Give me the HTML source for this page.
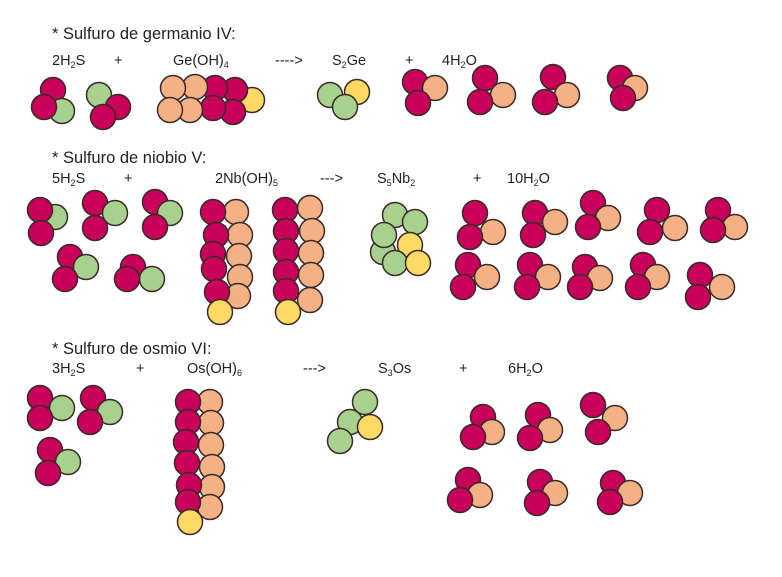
<!DOCTYPE html>
<html><head><meta charset="utf-8"><style>
html,body{margin:0;padding:0;background:#fff;width:782px;height:577px;overflow:hidden}
svg text{font-family:"Liberation Sans",sans-serif;font-size:14.5px;fill:#222}
svg text.t{font-size:16.5px}
.m{fill:#c8005a}.g{fill:#a9d18e}.o{fill:#f4b183}.y{fill:#ffd966}
circle{stroke:#3a2a2a;stroke-width:1.5}
</style></head><body>
<svg width="782" height="577" viewBox="0 0 782 577" xmlns="http://www.w3.org/2000/svg">
<g>
<text class="t" x="52" y="39">* Sulfuro de germanio IV:</text>
<text x="52" y="65">2H<tspan font-size="9" dy="3">2</tspan><tspan dy="-3">S</tspan></text>
<text x="114" y="65">+</text>
<text x="173" y="65">Ge(OH)<tspan font-size="9" dy="3">4</tspan></text>
<text x="275" y="65">----&gt;</text>
<text x="332" y="65">S<tspan font-size="9" dy="3">2</tspan><tspan dy="-3">Ge</tspan></text>
<text x="405" y="65">+</text>
<text x="442" y="65">4H<tspan font-size="9" dy="3">2</tspan><tspan dy="-3">O</tspan></text>

<text class="t" x="52" y="163">* Sulfuro de niobio V:</text>
<text x="52" y="183">5H<tspan font-size="9" dy="3">2</tspan><tspan dy="-3">S</tspan></text>
<text x="124" y="183">+</text>
<text x="215" y="183">2Nb(OH)<tspan font-size="9" dy="3">5</tspan></text>
<text x="320" y="183">---&gt;</text>
<text x="377" y="183">S<tspan font-size="9" dy="3">5</tspan><tspan dy="-3">Nb</tspan><tspan font-size="9" dy="3">2</tspan></text>
<text x="473" y="183">+</text>
<text x="507" y="183">10H<tspan font-size="9" dy="3">2</tspan><tspan dy="-3">O</tspan></text>

<text class="t" x="52" y="354">* Sulfuro de osmio VI:</text>
<text x="52" y="373">3H<tspan font-size="9" dy="3">2</tspan><tspan dy="-3">S</tspan></text>
<text x="136" y="373">+</text>
<text x="187" y="373">Os(OH)<tspan font-size="9" dy="3">6</tspan></text>
<text x="303" y="373">---&gt;</text>
<text x="378" y="373">S<tspan font-size="9" dy="3">3</tspan><tspan dy="-3">Os</tspan></text>
<text x="459" y="373">+</text>
<text x="508" y="373">6H<tspan font-size="9" dy="3">2</tspan><tspan dy="-3">O</tspan></text>
</g>
<g>
<circle class="m" cx="53" cy="90" r="12.5"/><circle class="g" cx="62" cy="111" r="12.5"/><circle class="m" cx="44" cy="107" r="12.5"/>
<circle class="g" cx="99" cy="95" r="12.5"/><circle class="m" cx="118" cy="107" r="12.5"/><circle class="m" cx="103" cy="117" r="12.5"/>
<circle class="y" cx="252" cy="100" r="12.5"/>
<circle class="m" cx="235" cy="90" r="12.5"/><circle class="m" cx="215" cy="88" r="12.5"/>
<circle class="o" cx="195" cy="87" r="12.5"/><circle class="o" cx="173" cy="88" r="12.5"/>
<circle class="m" cx="233" cy="112" r="12.5"/><circle class="m" cx="213" cy="108" r="12.5"/>
<circle class="o" cx="190" cy="110" r="12.5"/><circle class="o" cx="170" cy="110" r="12.5"/>
<circle class="g" cx="330" cy="95" r="12.5"/><circle class="y" cx="357" cy="92" r="12.5"/><circle class="g" cx="345" cy="107" r="12.5"/>
<circle class="m" cx="415" cy="82" r="12.5"/><circle class="o" cx="435" cy="88" r="12.5"/><circle class="m" cx="418" cy="103" r="12.5"/>
<circle class="m" cx="485" cy="78" r="12.5"/><circle class="o" cx="503" cy="95" r="12.5"/><circle class="m" cx="480" cy="102" r="12.5"/>
<circle class="m" cx="553" cy="77" r="12.5"/><circle class="o" cx="567" cy="95" r="12.5"/><circle class="m" cx="545" cy="102" r="12.5"/>
<circle class="m" cx="620" cy="78" r="12.5"/><circle class="o" cx="635" cy="88" r="12.5"/><circle class="m" cx="623" cy="98" r="12.5"/>

<circle class="g" cx="55" cy="217" r="12.5"/><circle class="m" cx="40" cy="210" r="12.5"/><circle class="m" cx="41" cy="233" r="12.5"/>
<circle class="m" cx="95" cy="203" r="12.5"/><circle class="g" cx="115" cy="213" r="12.5"/><circle class="m" cx="95" cy="228" r="12.5"/>
<circle class="m" cx="155" cy="202" r="12.5"/><circle class="g" cx="170" cy="213" r="12.5"/><circle class="m" cx="155" cy="227" r="12.5"/>
<circle class="m" cx="70" cy="257" r="12.5"/><circle class="g" cx="86" cy="267" r="12.5"/><circle class="m" cx="65" cy="279" r="12.5"/>
<circle class="m" cx="133" cy="267" r="12.5"/><circle class="g" cx="152" cy="279" r="12.5"/><circle class="m" cx="127" cy="279" r="12.5"/>

<circle class="o" cx="236" cy="212" r="12.5"/><circle class="o" cx="240" cy="235" r="12.5"/><circle class="o" cx="239" cy="256" r="12.5"/><circle class="o" cx="240" cy="277" r="12.5"/><circle class="o" cx="238" cy="296" r="12.5"/>
<circle class="m" cx="213" cy="212" r="12.5"/><circle class="m" cx="216" cy="235" r="12.5"/><circle class="m" cx="213" cy="254" r="12.5"/><circle class="m" cx="214" cy="269" r="12.5"/><circle class="m" cx="217" cy="292" r="12.5"/>
<circle class="y" cx="220" cy="312" r="12.5"/>
<circle class="o" cx="310" cy="208" r="12.5"/><circle class="o" cx="312" cy="231" r="12.5"/><circle class="o" cx="311" cy="253" r="12.5"/><circle class="o" cx="311" cy="275" r="12.5"/><circle class="o" cx="310" cy="300" r="12.5"/>
<circle class="m" cx="285" cy="210" r="12.5"/><circle class="m" cx="286" cy="231" r="12.5"/><circle class="m" cx="286" cy="251" r="12.5"/><circle class="m" cx="286" cy="272" r="12.5"/><circle class="m" cx="286" cy="291" r="12.5"/>
<circle class="y" cx="288" cy="312" r="12.5"/>

<circle class="g" cx="395" cy="215" r="12.5"/><circle class="g" cx="415" cy="222" r="12.5"/><circle class="g" cx="383" cy="252" r="12.5"/><circle class="g" cx="384" cy="235" r="12.5"/><circle class="y" cx="410" cy="245" r="12.5"/><circle class="g" cx="395" cy="263" r="12.5"/><circle class="y" cx="418" cy="263" r="12.5"/>

<circle class="m" cx="475" cy="213" r="12.5"/><circle class="o" cx="493" cy="232" r="12.5"/><circle class="m" cx="470" cy="237" r="12.5"/>
<circle class="m" cx="535" cy="213" r="12.5"/><circle class="o" cx="555" cy="222" r="12.5"/><circle class="m" cx="533" cy="235" r="12.5"/>
<circle class="m" cx="593" cy="203" r="12.5"/><circle class="o" cx="608" cy="218" r="12.5"/><circle class="m" cx="588" cy="227" r="12.5"/>
<circle class="m" cx="657" cy="210" r="12.5"/><circle class="o" cx="675" cy="228" r="12.5"/><circle class="m" cx="650" cy="232" r="12.5"/>
<circle class="m" cx="718" cy="210" r="12.5"/><circle class="o" cx="735" cy="227" r="12.5"/><circle class="m" cx="713" cy="230" r="12.5"/>
<circle class="m" cx="468" cy="265" r="12.5"/><circle class="o" cx="487" cy="277" r="12.5"/><circle class="m" cx="463" cy="287" r="12.5"/>
<circle class="m" cx="530" cy="265" r="12.5"/><circle class="o" cx="548" cy="277" r="12.5"/><circle class="m" cx="527" cy="287" r="12.5"/>
<circle class="m" cx="585" cy="267" r="12.5"/><circle class="o" cx="600" cy="278" r="12.5"/><circle class="m" cx="580" cy="287" r="12.5"/>
<circle class="m" cx="643" cy="265" r="12.5"/><circle class="o" cx="657" cy="277" r="12.5"/><circle class="m" cx="638" cy="287" r="12.5"/>
<circle class="m" cx="700" cy="275" r="12.5"/><circle class="o" cx="722" cy="287" r="12.5"/><circle class="m" cx="698" cy="297" r="12.5"/>

<circle class="m" cx="40" cy="398" r="12.5"/><circle class="g" cx="62" cy="408" r="12.5"/><circle class="m" cx="40" cy="418" r="12.5"/>
<circle class="m" cx="93" cy="398" r="12.5"/><circle class="g" cx="110" cy="412" r="12.5"/><circle class="m" cx="90" cy="422" r="12.5"/>
<circle class="m" cx="50" cy="450" r="12.5"/><circle class="g" cx="68" cy="462" r="12.5"/><circle class="m" cx="48" cy="473" r="12.5"/>

<circle class="o" cx="210" cy="402" r="12.5"/><circle class="o" cx="211" cy="423" r="12.5"/><circle class="o" cx="211" cy="445" r="12.5"/><circle class="o" cx="212" cy="467" r="12.5"/><circle class="o" cx="212" cy="487" r="12.5"/><circle class="o" cx="210" cy="507" r="12.5"/>
<circle class="m" cx="188" cy="402" r="12.5"/><circle class="m" cx="188" cy="422" r="12.5"/><circle class="m" cx="186" cy="442" r="12.5"/><circle class="m" cx="187" cy="463" r="12.5"/><circle class="m" cx="189" cy="485" r="12.5"/><circle class="m" cx="188" cy="502" r="12.5"/>
<circle class="y" cx="190" cy="522" r="12.5"/>

<circle class="g" cx="365" cy="402" r="12.5"/><circle class="g" cx="350" cy="422" r="12.5"/><circle class="y" cx="370" cy="427" r="12.5"/><circle class="g" cx="340" cy="441" r="12.5"/>

<circle class="m" cx="483" cy="417" r="12.5"/><circle class="o" cx="492" cy="432" r="12.5"/><circle class="m" cx="473" cy="437" r="12.5"/>
<circle class="m" cx="538" cy="415" r="12.5"/><circle class="o" cx="550" cy="430" r="12.5"/><circle class="m" cx="530" cy="438" r="12.5"/>
<circle class="m" cx="593" cy="405" r="12.5"/><circle class="o" cx="615" cy="418" r="12.5"/><circle class="m" cx="598" cy="432" r="12.5"/>
<circle class="m" cx="468" cy="480" r="12.5"/><circle class="o" cx="480" cy="495" r="12.5"/><circle class="m" cx="460" cy="500" r="12.5"/>
<circle class="m" cx="540" cy="482" r="12.5"/><circle class="o" cx="555" cy="493" r="12.5"/><circle class="m" cx="537" cy="503" r="12.5"/>
<circle class="m" cx="613" cy="483" r="12.5"/><circle class="o" cx="630" cy="493" r="12.5"/><circle class="m" cx="610" cy="502" r="12.5"/>
</g>
</svg>
</body></html>
